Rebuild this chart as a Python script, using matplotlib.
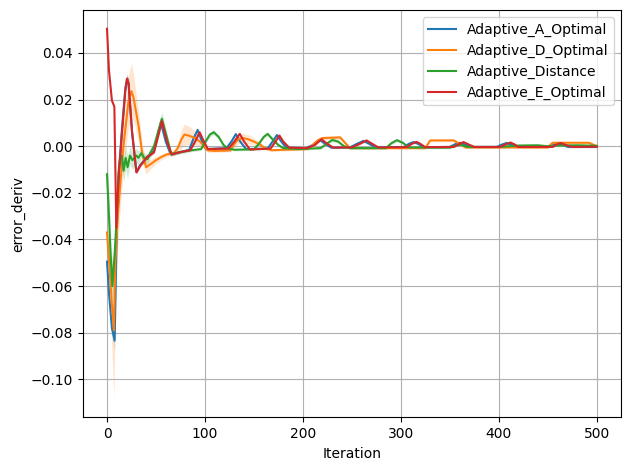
import numpy as np
import matplotlib
matplotlib.use("Agg")
import matplotlib.pyplot as plt

# rows: (iteration, mean error_deriv, half width of band)
a_optimal = [
    (0, -0.0495, 0.001), (2, -0.063, 0.002), (5, -0.078, 0.003), (7.8, -0.0834, 0.004),
    (10, -0.035, 0.003), (12, -0.012, 0.002), (15, 0.006, 0.002), (18.5, 0.024, 0.002),
    (20.5, 0.029, 0.002), (22, 0.027, 0.002), (25.5, 0.006, 0.0015), (30, -0.011, 0.001),
    (34, -0.008, 0.0008), (41, -0.0045, 0.0008), (48, -0.002, 0.0008), (52, 0.005, 0.001),
    (55, 0.010, 0.0012), (60, 0.002, 0.001), (65, -0.0035, 0.0006), (75, -0.0025, 0.0005),
    (84, -0.0015, 0.0005), (88, 0.003, 0.0008), (92.5, 0.007, 0.001), (97, 0.002, 0.0008),
    (101, -0.0012, 0.0005), (122, -0.0008, 0.0004), (127, 0.002, 0.0007), (131.5, 0.0052, 0.0008),
    (136, 0.002, 0.0007), (142, -0.0012, 0.0004), (164, -0.001, 0.0004), (169, 0.002, 0.0007),
    (173.5, 0.0048, 0.0008), (178, 0.002, 0.0007), (183, -0.0006, 0.0004), (203, -0.0008, 0.0004),
    (210, 0.0005, 0.0006), (217, 0.0028, 0.0007), (223, 0.001, 0.0006), (229, -0.0006, 0.0004),
    (248, -0.0005, 0.0004), (255, 0.001, 0.0006), (262, 0.0023, 0.0007), (268, 0.001, 0.0006),
    (274, -0.0005, 0.0004), (303, -0.0004, 0.0004), (308, 0.001, 0.0006), (313, 0.0018, 0.0006),
    (318, 0.001, 0.0006), (323, -0.0004, 0.0004), (350, -0.0003, 0.0004), (355, 0.0008, 0.0005),
    (360, 0.0015, 0.0006), (365, 0.0008, 0.0005), (371, -0.0003, 0.0004), (398, -0.0003, 0.0004),
    (403, 0.0007, 0.0005), (408, 0.0014, 0.0006), (413, 0.0007, 0.0005), (418, -0.0003, 0.0004),
    (452, -0.0003, 0.0004), (456, 0.0006, 0.0005), (460, 0.0012, 0.0005), (465, 0.0006, 0.0005),
    (471, -0.0003, 0.0004), (500, -0.0003, 0.0004),
]

d_optimal = [
    (0, -0.037, 0.003), (3, -0.055, 0.012), (5, -0.068, 0.02), (7, -0.079, 0.029),
    (8.5, -0.05, 0.02), (11, -0.03, 0.012), (14, -0.014, 0.01), (17, 0.001, 0.01),
    (22, 0.0196, 0.011), (25, 0.0236, 0.012), (27, 0.021, 0.01), (32.5, 0.008, 0.006),
    (36, -0.0033, 0.004), (40, -0.009, 0.003), (45, -0.0075, 0.002), (50, -0.006, 0.0015),
    (55, -0.0047, 0.0012), (61, -0.0035, 0.001), (68, -0.003, 0.001), (72, -0.001, 0.002),
    (76, 0.003, 0.004), (79, 0.005, 0.0045), (84, 0.0045, 0.004), (90, 0.0035, 0.003),
    (95, 0.002, 0.002), (100, -0.0005, 0.0012), (103, -0.0018, 0.0008), (110, -0.002, 0.0006),
    (126, -0.0018, 0.0006), (130, 0.001, 0.0015), (134, 0.003, 0.002), (139, 0.0035, 0.002),
    (144, 0.003, 0.002), (150, 0.002, 0.0015), (156, 0.0008, 0.001), (162, -0.001, 0.0007),
    (168, -0.0017, 0.0005), (205, -0.0012, 0.0005), (210, 0.0005, 0.0007), (215, 0.0025, 0.0008),
    (220, 0.0035, 0.0008), (238, 0.0038, 0.0008), (243, 0.0015, 0.0007), (248, -0.0008, 0.0005),
    (325, -0.0008, 0.0005), (330, 0.0025, 0.0006), (354, 0.0025, 0.0006), (360, 0.001, 0.0006),
    (366, -0.0005, 0.0005), (450, -0.0005, 0.0005), (455, 0.0015, 0.0005), (492, 0.0015, 0.0005),
    (500, 0.0, 0.0005),
]

distance = [
    (0, -0.012, 0.01), (2, -0.03, 0.01), (3.5, -0.045, 0.009), (5.5, -0.06, 0.008),
    (8, -0.045, 0.007), (10.5, -0.025, 0.006), (12, -0.01, 0.006), (13.5, -0.005, 0.005),
    (15, -0.004, 0.005), (17, -0.0105, 0.005), (19, -0.005, 0.005), (21, -0.009, 0.005),
    (23.5, -0.004, 0.004), (26, -0.006, 0.004), (30, -0.004, 0.003), (32, -0.005, 0.003),
    (35, -0.003, 0.002), (38, -0.005, 0.002), (41.5, -0.0055, 0.002), (44, -0.003, 0.002),
    (48, 0.0, 0.002), (52, 0.006, 0.0025), (56, 0.0118, 0.003), (61, 0.004, 0.002),
    (65.5, -0.0033, 0.001), (75, -0.0025, 0.0008), (85, -0.0018, 0.0006), (96, -0.0012, 0.0006),
    (100, 0.0015, 0.0008), (105, 0.005, 0.001), (109, 0.006, 0.001), (114, 0.004, 0.0008),
    (119, 0.0005, 0.0006), (123, -0.0008, 0.0005), (130, -0.0015, 0.0005), (150, -0.0013, 0.0005),
    (155, 0.001, 0.0007), (160, 0.004, 0.0008), (164, 0.0053, 0.0008), (169, 0.003, 0.0007),
    (175, 0.0005, 0.0006), (180, -0.0008, 0.0005), (195, -0.0012, 0.0005), (218, -0.0008, 0.0005),
    (224, 0.001, 0.0007), (230, 0.0027, 0.0008), (236, 0.002, 0.0007), (242, 0.0, 0.0006),
    (248, -0.0008, 0.0005), (285, -0.0008, 0.0005), (290, 0.0012, 0.0006), (296, 0.0026, 0.0007),
    (302, 0.0015, 0.0006), (308, -0.0005, 0.0005), (350, -0.0006, 0.0005), (356, 0.0003, 0.0005),
    (362, 0.0006, 0.0005), (368, -0.0003, 0.0005), (400, -0.0003, 0.0005), (420, 0.0003, 0.0005),
    (440, 0.0004, 0.0005), (450, 0.0, 0.0005), (460, 0.0003, 0.0005), (480, 0.0004, 0.0005),
    (500, 0.0002, 0.0005),
]

e_optimal = [
    (0, 0.0504, 0.0003), (2, 0.0325, 0.0005), (5, 0.0196, 0.0005), (7.5, 0.017, 0.0005),
    (9.5, -0.035, 0.001), (12, -0.012, 0.002), (15.5, 0.0067, 0.002), (19, 0.0253, 0.002),
    (20.5, 0.029, 0.002), (22, 0.027, 0.002), (25.5, 0.0067, 0.0015), (30, -0.0112, 0.001),
    (34, -0.0083, 0.0008), (41, -0.0047, 0.0006), (48, -0.0026, 0.0006), (52, 0.004, 0.0008),
    (56, 0.0108, 0.001), (61, 0.0024, 0.0008), (66, -0.0035, 0.0005), (75, -0.0025, 0.0004),
    (85, -0.0017, 0.0004), (90, 0.002, 0.0006), (94.5, 0.006, 0.0008), (99, 0.002, 0.0006),
    (103, -0.0012, 0.0004), (124, -0.001, 0.0003), (130, 0.002, 0.0005), (135.5, 0.0053, 0.0006),
    (140, 0.002, 0.0005), (146, -0.0014, 0.0003), (167, -0.001, 0.0003), (172, 0.002, 0.0005),
    (176, 0.0046, 0.0006), (180, 0.002, 0.0005), (186, -0.0006, 0.0003), (204, -0.0008, 0.0003),
    (212, 0.0005, 0.0004), (219, 0.003, 0.0005), (225, 0.001, 0.0004), (231, -0.0006, 0.0003),
    (250, -0.0005, 0.0003), (258, 0.001, 0.0004), (265, 0.0025, 0.0005), (271, 0.001, 0.0004),
    (277, -0.0005, 0.0003), (306, -0.0004, 0.0003), (311, 0.001, 0.0004), (316, 0.0019, 0.0004),
    (320, 0.001, 0.0004), (325, -0.0004, 0.0003), (354, -0.0003, 0.0003), (359, 0.0008, 0.0003),
    (364, 0.0018, 0.0004), (369, 0.0008, 0.0003), (375, -0.0003, 0.0003), (401, -0.0003, 0.0003),
    (407, 0.0008, 0.0003), (412, 0.0016, 0.0004), (416, 0.0008, 0.0003), (420, -0.0003, 0.0003),
    (455, -0.0003, 0.0003), (459, 0.0007, 0.0003), (463, 0.0014, 0.0003), (468, 0.0006, 0.0003),
    (475, -0.0003, 0.0003), (500, -0.0002, 0.0003),
]

series = [
    ("Adaptive_A_Optimal", a_optimal),
    ("Adaptive_D_Optimal", d_optimal),
    ("Adaptive_Distance", distance),
    ("Adaptive_E_Optimal", e_optimal),
]

fig, ax = plt.subplots(figsize=(6.3, 4.7), dpi=100)
fig.subplots_adjust(left=0.131, right=0.986, bottom=0.112, top=0.979)

for i, (name, rows) in enumerate(series):
    x, y, ci = np.array(rows).T
    color = "C{0}".format(i)
    ax.plot(x, y, color=color, linewidth=1.5, label=name)
    ax.fill_between(x, y - ci, y + ci, color=color, alpha=0.2, linewidth=0)

ax.set_xlim(-25, 525)
ax.set_ylim(-0.1163, 0.0585)
ax.set_xlabel("Iteration")
ax.set_ylabel("error_deriv")
ax.grid(True)
ax.legend(loc="upper right")

fig.savefig("out.png", dpi=100)
